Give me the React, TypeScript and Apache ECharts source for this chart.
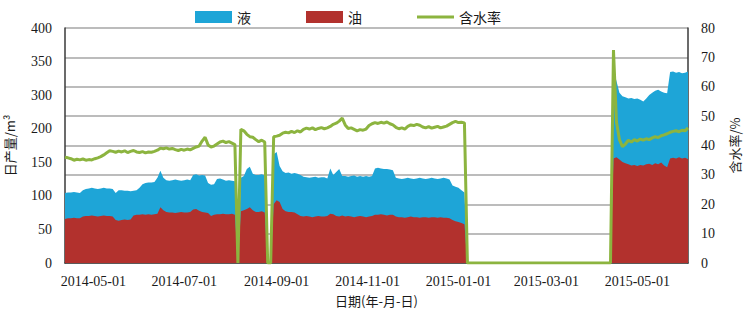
import React, { useEffect, useRef } from "react";
import * as echarts from "echarts";

// Sampling: one reading every 2 days from 2014-04-12 (UTC)
const startDate = "2014-04-12";
const stepDays = 2;

// 液 total liquid, m3/d
const liquid = [
  119, 120, 120, 121, 120, 119, 124, 126, 127, 128, 127, 126, 127, 128, 127, 127, 126,
  119, 124, 124, 123, 123, 122, 123, 124, 128, 134, 136, 137, 137, 138, 145, 157,
  145, 141, 140, 141, 142, 141, 140, 141, 142, 141, 150, 151, 149, 150, 149,
  136, 133, 134, 143, 144, 142, 140, 141, 140, 139,
  0,
  145, 148, 160, 164, 152, 150, 150, 151, 149,
  0, 0,
  185, 189, 165, 156, 153, 154, 152, 153, 152, 150,
  147, 146, 145, 146, 147, 145, 146, 146, 144,
  161, 150, 155, 160, 148,
  148, 147, 148, 149, 147, 148, 147, 148, 147, 148,
  161, 162, 161, 160, 160, 159, 158,
  145, 144, 143, 144, 145, 144, 143, 144, 145, 144, 143, 144, 145, 144, 143, 144, 145, 144,
  142, 132, 130, 128, 124, 120,
  0, 0, 0, 0, 0, 0, 0, 0, 0, 0, 0, 0, 0, 0, 0, 0, 0, 0, 0, 0, 0, 0, 0, 0, 0,
  0, 0, 0, 0, 0, 0, 0, 0, 0, 0, 0, 0, 0, 0, 0, 0, 0, 0, 0, 0, 0, 0, 0, 0,
  330, 310, 290, 284, 282, 280, 281, 279, 280, 278, 275, 280, 286, 290, 293, 295, 292, 290, 289,
  325, 326, 324, 325, 323, 324, 326,
];

// 油 oil, m3/d
const oil = [
  75, 76, 76, 77, 76, 76, 79, 80, 80, 81, 80, 79, 80, 81, 80, 80, 79,
  73, 72, 73, 74, 73, 74, 81, 82, 82, 83, 82, 83, 82, 83, 84, 95, 90,
  87, 86, 86, 85, 86, 87, 86, 86, 87, 91, 92, 89, 87, 86, 85, 80,
  82, 83, 83, 84, 83, 83, 84, 82,
  0,
  88, 90, 92, 95, 90, 87, 87, 88, 86,
  0, 0,
  100, 107, 104, 92, 88, 87, 87, 86, 83, 80,
  79, 80, 79, 78, 79, 80, 79, 79, 80,
  84, 83,
  80, 79, 81, 79, 80, 79, 78, 79, 80, 79, 78, 79, 80,
  82, 82, 83, 82, 81, 82, 82,
  79, 78, 78, 77, 78, 79, 78, 78, 77, 78, 78, 77, 78, 78, 77, 78, 77, 77, 76,
  73, 71, 70, 68, 66,
  0, 0, 0, 0, 0, 0, 0, 0, 0, 0, 0, 0, 0, 0, 0, 0, 0, 0, 0, 0, 0, 0, 0, 0, 0,
  0, 0, 0, 0, 0, 0, 0, 0, 0, 0, 0, 0, 0, 0, 0, 0, 0, 0, 0, 0, 0, 0, 0, 0,
  178, 180, 176, 172, 170, 168, 166, 167, 165, 167, 166, 168, 169, 167, 170, 168, 171, 166, 163,
  178, 179, 178, 180, 178, 179, 177,
];

// 含水率 water cut, %
const waterCut = [
  36.0, 35.8, 35.5, 35.0, 35.3, 35.1, 35.4, 35.0, 35.2, 35.1, 35.5, 35.8,
  36.2, 36.8, 37.5, 38.2,
  38.0, 37.7, 38.1, 37.8, 38.2, 37.6, 38.0, 38.3, 37.8,
  37.6, 37.9, 37.5, 37.8, 37.7, 38.0, 38.4,
  39.1, 38.9, 39.2, 38.8, 39.0,
  38.6, 38.3, 38.7, 38.4, 38.8, 38.5, 39.0,
  39.5, 39.8, 41.5, 42.8,
  40.2, 39.5, 39.8, 40.5, 41.2, 41.5, 41.0, 41.3, 40.8, 40.3,
  0,
  45.5, 45.0, 43.8, 43.0, 42.8, 42.0, 41.3, 41.8, 41.2,
  0, 0,
  43.0, 43.2, 43.5, 44.2, 44.5, 44.3, 44.8, 44.4, 45.0, 44.6,
  45.5, 45.9, 45.6, 46.0, 45.4, 45.8, 46.1, 45.7, 46.0,
  46.5, 47.2, 47.6, 48.3, 49.3,
  47.0, 45.8, 46.0,
  45.5, 45.0, 45.4, 45.2, 45.6,
  46.8, 47.4, 47.8, 47.5, 47.9, 47.6, 48.0, 47.4, 47.0,
  46.2, 45.7, 46.0, 45.6,
  46.5, 47.0, 46.8, 47.2, 46.9,
  46.3, 46.0, 46.4, 45.9, 46.2, 46.5, 46.0, 46.3, 46.6,
  47.2, 47.8, 48.2, 47.8, 47.9, 47.7,
  0, 0, 0, 0, 0, 0, 0, 0, 0, 0, 0, 0, 0, 0, 0, 0, 0, 0, 0, 0, 0, 0, 0, 0, 0,
  0, 0, 0, 0, 0, 0, 0, 0, 0, 0, 0, 0, 0, 0, 0, 0, 0, 0, 0, 0, 0, 0, 0, 0,
  72.5, 48.0, 42.0, 39.6, 40.5, 41.8, 41.2, 42.0, 41.5, 42.2, 41.8, 42.3, 42.0,
  42.6, 43.0, 42.7, 43.3, 43.6, 44.0, 44.5, 44.8, 45.0, 44.7, 45.2, 45.0, 46.0,
];

const axisEnd = "2015-06-04";
const xTickLabels = [
  "2014-05-01", "2014-07-01", "2014-09-01", "2014-11-01",
  "2015-01-01", "2015-03-01", "2015-05-01",
];
const leftTickLabels = ["0", "50", "100", "150", "200", "300", "350", "400"];
const rightTicks = { min: 0, max: 80, interval: 10 };
const prodTicks = { min: 0, max: 400, interval: 50 };

const DAY = 86400000;
const toTime = (s: string) => {
  const [y, m, d] = s.split("-").map(Number);
  return Date.UTC(y, m - 1, d);
};
const t0 = toTime(startDate);
const toDay = (s: string) => Math.round((toTime(s) - t0) / DAY);
const pad = (n: number) => (n < 10 ? "0" + n : "" + n);
const dayToLabel = (day: number) => {
  const d = new Date(t0 + Math.round(day) * DAY);
  return d.getUTCFullYear() + "-" + pad(d.getUTCMonth() + 1) + "-" + pad(d.getUTCDate());
};
const pairs = (arr: number[]) => arr.map((v, i) => [i * stepDays, v]);

const SERIF = "'Liberation Serif', 'Times New Roman', serif";
const CJK = "'Noto Sans CJK SC', sans-serif";
// thin horizontal bar centred in a 40x12 box (moveTo points fix the bounding box)
const LINE_ICON = "path://M0,0 M0,4.5 L40,4.5 L40,7.5 L0,7.5 Z M40,12";

export default function App() {
  const ref = useRef<HTMLDivElement>(null);
  useEffect(() => {
    if (!ref.current) return;
    const chart = echarts.init(ref.current, null, { renderer: "svg" });
    chart.setOption({
      animation: false,
      backgroundColor: "#ffffff",
      grid: { left: 65, right: 58, top: 28, bottom: 48, outerBoundsMode: "none", containLabel: false },
      legend: {
        left: 190,
        top: 5,
        itemWidth: 37,
        itemHeight: 12,
        itemGap: 55,
        textStyle: { fontFamily: CJK, fontSize: 14, color: "#1a1a1a" },
        data: [
          { name: "液", icon: "rect" },
          { name: "油", icon: "rect" },
          { name: "含水率", icon: LINE_ICON },
        ],
      },
      xAxis: {
        type: "value",
        min: 0,
        max: toDay(axisEnd),
        name: "日期(年-月-日)",
        nameLocation: "middle",
        nameGap: 29,
        nameTextStyle: { fontFamily: CJK, fontSize: 13, color: "#1a1a1a", lineHeight: 15 },
        axisLine: { show: true, onZero: false, lineStyle: { color: "#3a3a3a", width: 1.5 } },
        axisTick: { show: false },
        splitLine: { show: false },
        axisLabel: {
          customValues: xTickLabels.map(toDay),
          formatter: (v: number) => dayToLabel(v),
          fontFamily: SERIF,
          fontSize: 14,
          color: "#1a1a1a",
          margin: 11,
          hideOverlap: false,
        },
      },
      yAxis: [
        {
          type: "value",
          position: "left",
          min: prodTicks.min,
          max: prodTicks.max,
          interval: prodTicks.interval,
          axisLine: { show: false },
          axisTick: { show: false },
          axisLabel: { show: false },
          splitLine: { show: true, lineStyle: { color: "#a6a6a6", width: 1.5 } },
        },
        {
          type: "value",
          position: "right",
          min: rightTicks.min,
          max: rightTicks.max,
          interval: rightTicks.interval,
          name: "含水率/%",
          nameLocation: "middle",
          nameRotate: 90,
          nameGap: 40,
          nameTextStyle: { fontFamily: CJK, fontSize: 13, color: "#1a1a1a" },
          axisLine: { show: true, lineStyle: { color: "#3a3a3a", width: 1.5 } },
          axisTick: { show: false },
          splitLine: { show: false },
          axisLabel: { fontFamily: SERIF, fontSize: 14, color: "#1a1a1a", margin: 13 },
        },
        {
          type: "value",
          position: "left",
          min: 0,
          max: leftTickLabels.length - 1,
          interval: 1,
          name: "日产量/m³",
          nameLocation: "middle",
          nameRotate: 90,
          nameGap: 48,
          nameTextStyle: { fontFamily: CJK, fontSize: 13, color: "#1a1a1a", lineHeight: 15 },
          axisLine: { show: true, lineStyle: { color: "#3a3a3a", width: 1.5 } },
          axisTick: { show: false },
          splitLine: { show: false },
          axisLabel: {
            fontFamily: SERIF,
            fontSize: 14,
            color: "#1a1a1a",
            margin: 13,
            formatter: (v: number) => leftTickLabels[Math.round(v)] ?? "",
          },
        },
      ],
      series: [
        {
          name: "液",
          type: "line",
          yAxisIndex: 0,
          data: pairs(liquid),
          showSymbol: false,
          symbol: "none",
          color: "#1ea5d7",
          lineStyle: { width: 0 },
          areaStyle: { color: "#1ea5d7", opacity: 1 },
          z: 1,
        },
        {
          name: "油",
          type: "line",
          yAxisIndex: 0,
          data: pairs(oil),
          showSymbol: false,
          symbol: "none",
          color: "#b2312d",
          lineStyle: { width: 0 },
          areaStyle: { color: "#b2312d", opacity: 1 },
          z: 2,
        },
        {
          name: "含水率",
          type: "line",
          yAxisIndex: 1,
          data: pairs(waterCut),
          showSymbol: false,
          symbol: "none",
          color: "#8cb43f",
          lineStyle: { width: 3, color: "#8cb43f" },
          z: 3,
        },
      ],
    });
    return () => chart.dispose();
  }, []);
  return <div ref={ref} style={{ width: 746, height: 311, position: "absolute", left: 0, top: 0 }} />;
}
